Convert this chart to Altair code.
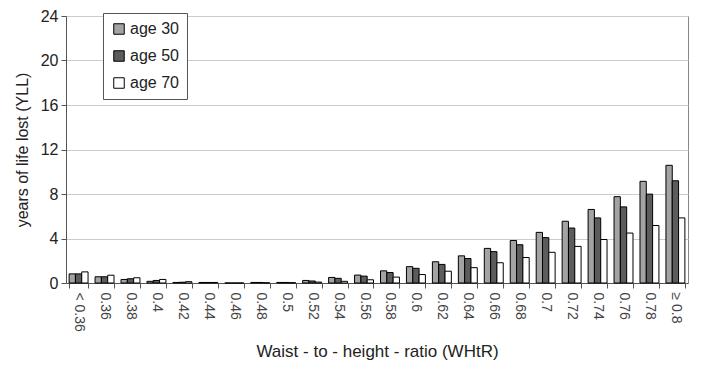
import altair as alt
import pandas as pd

categories = ["< 0.36", "0.36", "0.38", "0.4", "0.42", "0.44", "0.46", "0.48", "0.5",
              "0.52", "0.54", "0.56", "0.58", "0.6", "0.62", "0.64", "0.66", "0.68",
              "0.7", "0.72", "0.74", "0.76", "0.78", "≥ 0.8"]
age30 = [0.82, 0.56, 0.32, 0.15, 0.05, 0.05, 0.0, 0.05, 0.05, 0.23, 0.5, 0.71, 1.09, 1.47,
         1.91, 2.44, 3.11, 3.82, 4.55, 5.55, 6.61, 7.76, 9.14, 10.58]
age50 = [0.82, 0.56, 0.38, 0.23, 0.07, 0.05, 0.0, 0.05, 0.05, 0.18, 0.42, 0.62, 0.94, 1.32,
         1.67, 2.20, 2.82, 3.44, 4.08, 4.94, 5.85, 6.84, 7.99, 9.19]
age70 = [1.0, 0.7, 0.47, 0.32, 0.12, 0.05, 0.0, 0.02, 0.03, 0.08, 0.15, 0.29, 0.53, 0.76,
         1.06, 1.38, 1.82, 2.29, 2.76, 3.29, 3.91, 4.49, 5.17, 5.85]
series = ["age 30", "age 50", "age 70"]
colors = ["#a3a3a3", "#5c5c5c", "#ffffff"]

rows = []
for name, vals in zip(series, [age30, age50, age70]):
    for c, v in zip(categories, vals):
        rows.append({"cat": c, "age": name, "yll": v})
df = pd.DataFrame(rows)

font = "Liberation Sans"

chart = alt.Chart(df).mark_bar(stroke="black", strokeWidth=1).encode(
    x=alt.X("cat:N", sort=categories,
            scale=alt.Scale(paddingInner=0.27, paddingOuter=0.12),
            axis=alt.Axis(title="Waist - to - height - ratio (WHtR)", labelAngle=90,
                          labelAlign="left", labelBaseline="middle",
                          labelFontSize=14, labelColor="#444", labelFont=font,
                          titleFont=font, titleFontSize=17, titleFontWeight="normal",
                          titleColor="#222", titlePadding=12,
                          tickBand="extent", tickSize=5, tickColor="#555",
                          domainColor="#555", labelPadding=4)),
    xOffset=alt.XOffset("age:N", sort=series),
    y=alt.Y("yll:Q", scale=alt.Scale(domain=[0, 24]),
            axis=alt.Axis(title="years of life lost (YLL)", values=[0, 4, 8, 12, 16, 20, 24],
                          labelFontSize=16, labelFont=font, labelColor="#222",
                          titleFont=font, titleFontSize=16, titleFontWeight="normal",
                          titleColor="#222", titlePadding=10,
                          gridColor="#cccccc", tickSize=5, tickColor="#555",
                          domainColor="#555", labelPadding=3)),
    fill=alt.Fill("age:N", sort=series,
                  scale=alt.Scale(domain=series, range=colors),
                  legend=alt.Legend(title=None, orient="none", legendX=37, legendY=-3,
                                    symbolType="square", symbolSize=110,
                                    symbolStrokeColor="black", symbolStrokeWidth=1,
                                    labelFont=font, labelFontSize=16, labelColor="#222",
                                    rowPadding=11, padding=8, strokeColor="#555",
                                    fillColor="white", labelOffset=3)),
).properties(
    width=622, height=267,
    autosize=alt.AutoSizeParams(type="none"),
    padding={"left": 58, "top": 8, "right": 25, "bottom": 88},
    background="white",
).configure_view(stroke="#888", strokeWidth=1)

chart.save("out.html", embed_options={"renderer": "svg", "actions": False})
